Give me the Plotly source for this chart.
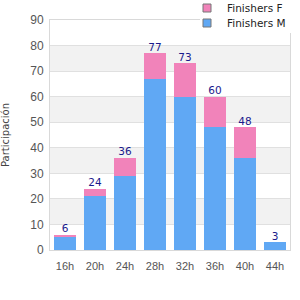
import plotly.graph_objects as go

categories = ["16h", "20h", "24h", "28h", "32h", "36h", "40h", "44h"]
finishers_m = [5, 21, 29, 67, 60, 48, 36, 3]
finishers_f = [1, 3, 7, 10, 13, 12, 12, 0]
totals = [m + f for m, f in zip(finishers_m, finishers_f)]

blue = "#60a8f4"
pink = "#f183ba"
font = "DejaVu Sans"
tickfont = "Liberation Sans"

fig = go.Figure()
fig.add_trace(go.Bar(x=categories, y=finishers_m, marker=dict(color=blue, line=dict(width=0)),
                     showlegend=False, hoverinfo="skip"))
fig.add_trace(go.Bar(x=categories, y=finishers_f, marker=dict(color=pink, line=dict(width=0)),
                     showlegend=False, hoverinfo="skip"))
fig.add_trace(go.Scatter(x=categories, y=totals, mode="text", text=[str(t) for t in totals],
                         textposition="top center", textfont=dict(color="#1a1a8c", size=10.5, family=font),
                         showlegend=False, hoverinfo="skip"))
# legend entries (two single-item legends for tight spacing)
fig.add_trace(go.Scatter(x=[None], y=[None], mode="markers", name="Finishers F", legend="legend",
                         marker=dict(symbol="square", size=8, color=pink, line=dict(color="#777", width=1))))
fig.add_trace(go.Scatter(x=[None], y=[None], mode="markers", name="Finishers M", legend="legend2",
                         marker=dict(symbol="square", size=8, color=blue, line=dict(color="#777", width=1))))

# plot area in px: x 50..290, y 20..250
def px_x(p):
    return (p - 50) / 240.0

def px_y(p):
    return (250 - p) / 230.0

shapes = []
for lo in [10, 30, 50, 70]:
    shapes.append(dict(type="rect", xref="paper", yref="y", x0=0, x1=1, y0=lo, y1=lo + 10,
                       fillcolor="#f2f2f2", line=dict(width=0), layer="below"))
# white area behind legend
shapes.append(dict(type="rect", xref="paper", yref="paper", x0=px_x(200), x1=px_x(292),
                   y0=px_y(33), y1=px_y(17), fillcolor="white", line=dict(width=0), layer="above"))

legend_common = dict(xref="container", yref="container", xanchor="left", yanchor="middle",
                     x=187 / 300, bgcolor="rgba(0,0,0,0)",
                     font=dict(size=10.5, color="#222", family=font))

fig.update_layout(
    width=300, height=300,
    margin=dict(l=50, r=10, t=20, b=50, autoexpand=False),
    barmode="stack", bargap=0.27,
    plot_bgcolor="white", paper_bgcolor="white",
    font=dict(family=font, size=11, color="#444"),
    shapes=shapes,
    legend=dict(y=1 - 8 / 300, **legend_common),
    legend2=dict(y=1 - 23 / 300, **legend_common),
    xaxis=dict(showgrid=False, showline=True, linecolor="#d9d9d9", mirror=True,
               tickfont=dict(size=11, color="#555", family=tickfont), ticklabelstandoff=6),
    yaxis=dict(range=[0, 90], dtick=10, showgrid=True, gridcolor="#e0e0e0", showline=True,
               linecolor="#d9d9d9", mirror=True, zeroline=False,
               tickfont=dict(size=12, color="#555", family=tickfont), ticklabelstandoff=3,
               title=dict(text="Participación", font=dict(size=10, color="#444", family=font),
                          standoff=19)),
)

fig.write_html("out.html")
